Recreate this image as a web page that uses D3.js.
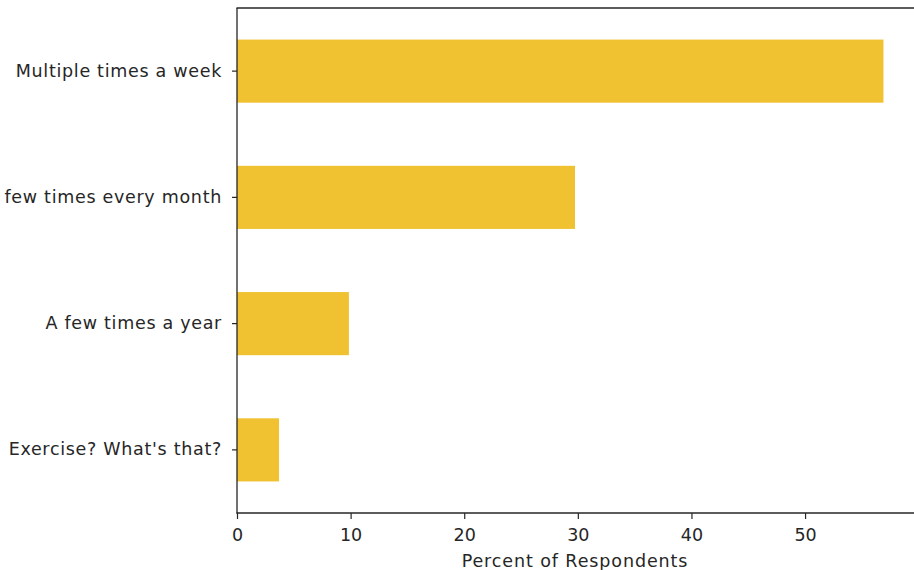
<!DOCTYPE html>
<html><head><meta charset="utf-8">
<script src="https://cdn.jsdelivr.net/npm/d3@7"></script>
<style>body{margin:0;background:#fff}svg{display:block}text{font-family:"DejaVu Sans",sans-serif}</style>
</head><body><svg id="c" width="914" height="570"></svg>
<script>
const categories = ["Multiple times a week","A few times every month","A few times a year","Exercise? What's that?"];
const values = [56.9, 29.75, 9.85, 3.7];
const xTicks = [0,10,20,30,40,50];
const xLabel = "Percent of Respondents";

const svg = d3.select("#c");
const x = d3.scaleLinear().domain([0,59.5]).range([237,913]);
const y = d3.scaleBand().domain(categories).range([8,513]).paddingInner(0.5).paddingOuter(0.25);
const ink = "#262626";

svg.selectAll("rect.bar").data(values).join("rect").attr("class","bar")
  .attr("x", x(0)).attr("y",(d,i)=>y(categories[i]))
  .attr("width", d=>x(d)-x(0)).attr("height", y.bandwidth())
  .attr("fill","#F0C232");

const xa = svg.append("g").attr("transform","translate(0,513)")
  .call(d3.axisBottom(x).tickValues(xTicks).tickSize(6).tickPadding(10).tickFormat(d3.format("d")));
xa.select(".domain").remove();
xa.selectAll("line").attr("stroke",ink).attr("stroke-width",1.2);
xa.selectAll("text").attr("fill",ink).attr("font-size",17.5);

const ya = svg.append("g").attr("transform","translate(237,0)")
  .call(d3.axisLeft(y).tickSize(5).tickPadding(10));
ya.select(".domain").remove();
ya.selectAll("line").attr("stroke",ink).attr("stroke-width",1.2);
ya.selectAll("text").attr("fill",ink).attr("font-size",17.5).attr("letter-spacing",0.7);

// spines
svg.append("line").attr("x1",237).attr("x2",237).attr("y1",8).attr("y2",513.5).attr("stroke",ink).attr("stroke-width",1.3);
svg.append("line").attr("x1",236.5).attr("x2",914).attr("y1",513).attr("y2",513).attr("stroke",ink).attr("stroke-width",1.3);
svg.append("line").attr("x1",236.5).attr("x2",914).attr("y1",8).attr("y2",8).attr("stroke",ink).attr("stroke-width",1.3);

svg.append("text").attr("x",(237+913)/2).attr("y",567).attr("text-anchor","middle")
  .attr("fill",ink).attr("font-size",17.5).attr("letter-spacing",0.9).text(xLabel);
</script></body></html>
